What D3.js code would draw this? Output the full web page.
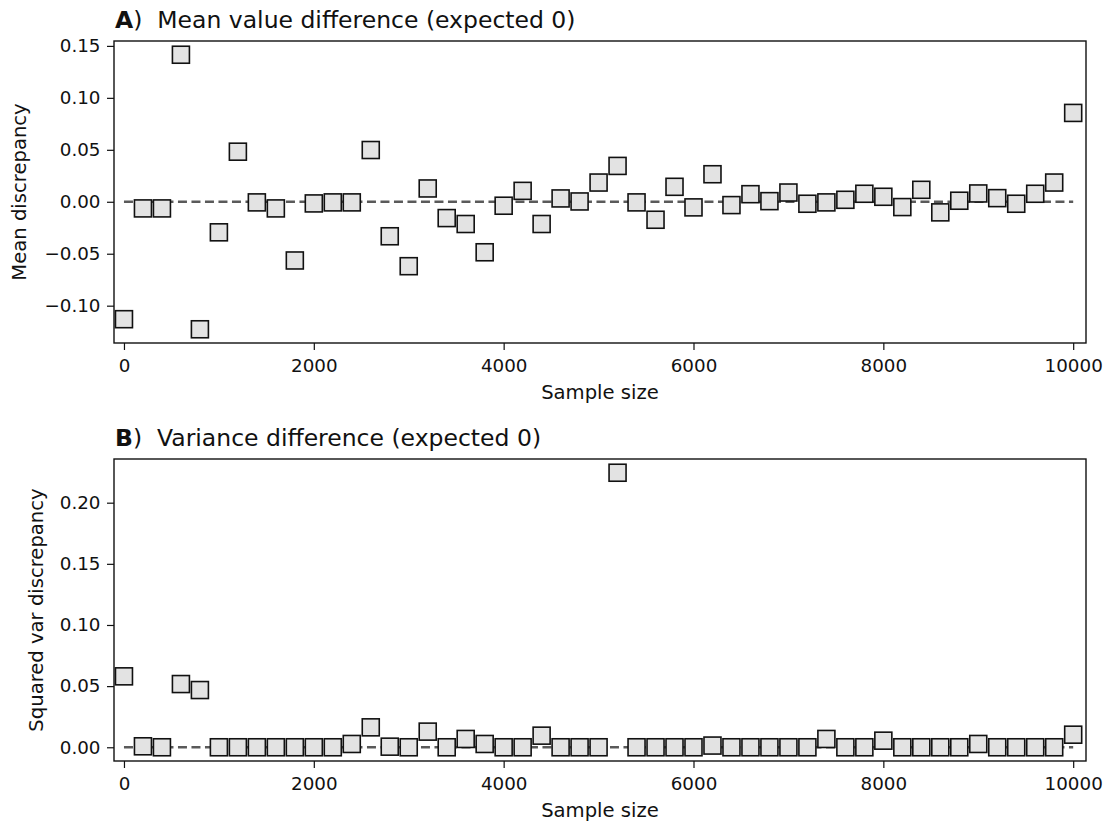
<!DOCTYPE html>
<html>
<head>
<meta charset="utf-8">
<script src="https://cdn.jsdelivr.net/npm/d3@7"></script>
<style>
  html, body { margin: 0; padding: 0; background: #fff; }
  svg { display: block; font-family: "DejaVu Sans", sans-serif; }
</style>
</head>
<body>
<svg id="chart" width="1110" height="822"></svg>
<script>
// ---- data ----
const sampleSizes = [0, 200, 400, 600, 800, 1000, 1200, 1400, 1600, 1800,
  2000, 2200, 2400, 2600, 2800, 3000, 3200, 3400, 3600, 3800,
  4000, 4200, 4400, 4600, 4800, 5000, 5200, 5400, 5600, 5800,
  6000, 6200, 6400, 6600, 6800, 7000, 7200, 7400, 7600, 7800,
  8000, 8200, 8400, 8600, 8800, 9000, 9200, 9400, 9600, 9800, 10000];

const meanDiff = [-0.113, -0.0064, -0.0064, 0.1415, -0.1227, -0.0294, 0.0482, -0.0006, -0.0064, -0.0565,
  -0.0016, -0.0006, -0.0006, 0.0498, -0.0332, -0.062, 0.0128, -0.0157, -0.0214, -0.0486,
  -0.0038, 0.0105, -0.0214, 0.0032, 0.0003, 0.0185, 0.0345, -0.0006, -0.0173, 0.0144,
  -0.0054, 0.0265, -0.0032, 0.0073, 0.0006, 0.0089, -0.0019, -0.0006, 0.0019, 0.0077,
  0.0048, -0.0051, 0.0115, -0.0102, 0.001, 0.008, 0.0035, -0.0019, 0.0077, 0.0185, 0.0855];

const varDiff = [0.058, 0.0008, 0, 0.0517, 0.0468, 0, 0, 0, 0, 0,
  0, 0, 0.0027, 0.0163, 0.0005, 0, 0.0128, 0, 0.0068, 0.0027,
  0, 0, 0.0095, 0, 0, 0, 0.2245, 0, 0, 0,
  0, 0.0014, 0, 0, 0, 0, 0, 0.0068, 0, 0,
  0.0054, 0, 0, 0, 0, 0.0027, 0, 0, 0, 0, 0.0103];

const xTicks = [0, 2000, 4000, 6000, 8000, 10000];
const meanTicks = [-0.10, -0.05, 0.00, 0.05, 0.10, 0.15];
const varTicks = [0.00, 0.05, 0.10, 0.15, 0.20];
const expectedValue = 0;

const panels = [
  { letter: "A", title: ")  Mean value difference (expected 0)", ylabel: "Mean discrepancy",
    values: meanDiff, ticks: meanTicks, top: 41, ylabelX: 19 },
  { letter: "B", title: ")  Variance difference (expected 0)", ylabel: "Squared var discrepancy",
    values: varDiff, ticks: varTicks, top: 459, ylabelX: 36 }
];

// ---- layout ----
const svg = d3.select("#chart");
const left = 114, right = 1086, plotH = 302;
const tickFont = 18.3, labelFont = 19.6, titleFont = 23.5;
const markerSize = 17;

const x = d3.scaleLinear().domain([-105, 10135]).range([left, right]);

panels.forEach(p => {
  const ext = d3.extent(p.values);
  const pad = (ext[1] - ext[0]) * 0.05;
  const y = d3.scaleLinear().domain([ext[0] - pad, ext[1] + pad]).range([p.top + plotH, p.top]);
  const g = svg.append("g");

  // dashed reference line
  g.append("line")
    .attr("x1", x(sampleSizes[0])).attr("x2", x(sampleSizes[sampleSizes.length - 1]))
    .attr("y1", y(expectedValue)).attr("y2", y(expectedValue))
    .attr("stroke", "#5a5a5a").attr("stroke-width", 2.4)
    .attr("stroke-dasharray", "9,4.5");

  // markers
  g.append("g").selectAll("rect")
    .data(sampleSizes.map((s, i) => ({ s, v: p.values[i] })))
    .join("rect")
    .attr("x", d => x(d.s) - markerSize / 2)
    .attr("y", d => y(d.v) - markerSize / 2)
    .attr("width", markerSize).attr("height", markerSize)
    .attr("fill", "#e3e3e3").attr("stroke", "#111").attr("stroke-width", 1.6);

  // axes
  const xAxis = g.append("g").attr("transform", `translate(0,${p.top + plotH})`)
    .call(d3.axisBottom(x).tickValues(xTicks).tickFormat(d3.format("d")).tickSize(7).tickPadding(9).tickSizeOuter(0));
  const yAxis = g.append("g").attr("transform", `translate(${left},0)`)
    .call(d3.axisLeft(y).tickValues(p.ticks).tickFormat(d3.format(".2f")).tickSize(7).tickPadding(6.5).tickSizeOuter(0));
  [xAxis, yAxis].forEach(a => {
    a.select(".domain").remove();
    a.selectAll("line").attr("stroke", "#111").attr("stroke-width", 1.2);
    a.selectAll("text").attr("font-size", tickFont).attr("fill", "#111")
      .attr("font-family", "DejaVu Sans, sans-serif");
  });

  // frame
  g.append("rect").attr("x", left).attr("y", p.top)
    .attr("width", right - left).attr("height", plotH)
    .attr("fill", "none").attr("stroke", "#111").attr("stroke-width", 1.4);

  // title
  const t = g.append("text").attr("x", left + 1).attr("y", p.top - 13)
    .attr("font-size", titleFont).attr("fill", "#111");
  t.append("tspan").attr("font-weight", "bold").text(p.letter);
  t.append("tspan").attr("xml:space", "preserve").style("white-space", "pre").text(p.title);

  // x label
  g.append("text").attr("x", (left + right) / 2).attr("y", p.top + plotH + 56)
    .attr("text-anchor", "middle").attr("font-size", labelFont).attr("fill", "#111")
    .text("Sample size");

  // y label
  g.append("text")
    .attr("transform", `translate(${p.ylabelX},${p.top + plotH / 2}) rotate(-90)`)
    .attr("text-anchor", "middle").attr("dominant-baseline", "central")
    .attr("font-size", labelFont).attr("fill", "#111")
    .text(p.ylabel);
});
</script>
</body>
</html>
